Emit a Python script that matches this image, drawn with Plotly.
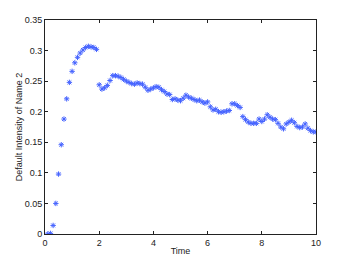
import plotly.graph_objects as go

time = [0.1, 0.2, 0.3, 0.4, 0.5, 0.6, 0.7, 0.8, 0.9, 1.0,
        1.1, 1.2, 1.3, 1.4, 1.5, 1.6, 1.7, 1.8, 1.9, 2.0,
        2.1, 2.2, 2.3, 2.4, 2.5, 2.6, 2.7, 2.8, 2.9, 3.0,
        3.1, 3.2, 3.3, 3.4, 3.5, 3.6, 3.7, 3.8, 3.9, 4.0,
        4.1, 4.2, 4.3, 4.4, 4.5, 4.6, 4.7, 4.8, 4.9, 5.0,
        5.1, 5.2, 5.3, 5.4, 5.5, 5.6, 5.7, 5.8, 5.9, 6.0,
        6.1, 6.2, 6.3, 6.4, 6.5, 6.6, 6.7, 6.8, 6.9, 7.0,
        7.1, 7.2, 7.3, 7.4, 7.5, 7.6, 7.7, 7.8, 7.9, 8.0,
        8.1, 8.2, 8.3, 8.4, 8.5, 8.6, 8.7, 8.8, 8.9, 9.0,
        9.1, 9.2, 9.3, 9.4, 9.5, 9.6, 9.7, 9.8, 9.9, 10.0]

intensity = [0.000, 0.001, 0.014, 0.050, 0.098, 0.146, 0.188, 0.221, 0.248, 0.266,
             0.280, 0.289, 0.296, 0.301, 0.305, 0.307, 0.306, 0.305, 0.302, 0.244,
             0.237, 0.239, 0.243, 0.251, 0.259, 0.259, 0.258, 0.256, 0.253, 0.250,
             0.248, 0.246, 0.245, 0.247, 0.246, 0.245, 0.240, 0.235, 0.237, 0.239,
             0.241, 0.240, 0.236, 0.233, 0.229, 0.228, 0.220, 0.221, 0.219, 0.218,
             0.222, 0.227, 0.224, 0.222, 0.220, 0.218, 0.219, 0.216, 0.214, 0.216,
             0.208, 0.203, 0.204, 0.200, 0.199, 0.200, 0.201, 0.202, 0.213, 0.213,
             0.210, 0.207, 0.192, 0.187, 0.183, 0.181, 0.181, 0.181, 0.188, 0.184,
             0.188, 0.195, 0.191, 0.188, 0.187, 0.181, 0.175, 0.172, 0.180, 0.183,
             0.186, 0.182, 0.176, 0.174, 0.175, 0.180, 0.173, 0.169, 0.167, 0.167]

x_ticks = [0, 2, 4, 6, 8, 10]
y_ticks = [0, 0.05, 0.1, 0.15, 0.2, 0.25, 0.3, 0.35]
y_labels = ["0", "0.05", "0.1", "0.15", "0.2", "0.25", "0.3", "0.35"]

FONT = dict(family="Liberation Sans, Arial, sans-serif", size=9, color="#222222")

fig = go.Figure(go.Scatter(
    x=time, y=intensity, mode="markers",
    marker=dict(symbol="asterisk-open", size=4.5, color="#4563ff",
                line=dict(color="#4563ff", width=1)),
))

axis_common = dict(showgrid=False, zeroline=False, showline=True, mirror="ticks",
                   linecolor="#222222", linewidth=1, ticks="inside", ticklen=3,
                   tickcolor="#222222", tickfont=FONT, automargin=False)

# the page body adds an 8px margin, so the figure is 8px smaller than the window
fig.update_layout(
    width=341, height=255,
    paper_bgcolor="white", plot_bgcolor="white",
    margin=dict(l=37, r=33, t=12, b=29),
    showlegend=False,
    font=FONT,
    xaxis=dict(range=[0, 10], tickvals=x_ticks,
               title=dict(text="Time", font=FONT, standoff=0), **axis_common),
    yaxis=dict(range=[0, 0.35], tickvals=y_ticks, ticktext=y_labels,
               title=dict(text="Default Intensity of Name 2", font=FONT, standoff=0),
               **axis_common),
)

fig.write_html("out.html")
